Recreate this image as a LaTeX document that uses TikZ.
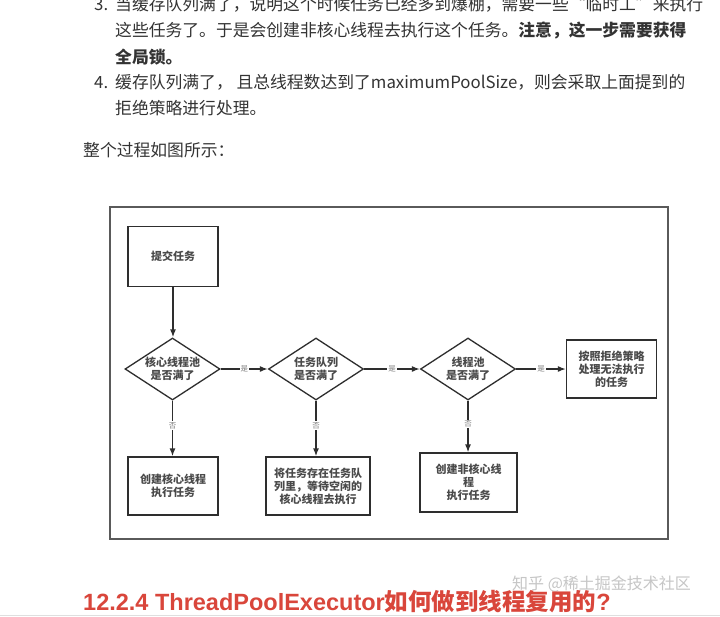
\documentclass[tikz,border=0pt]{standalone}
\usepackage{fontspec}
\setmainfont{Noto Sans CJK SC}
\newfontfamily\hfont{Liberation Sans}
\usetikzlibrary{shapes.geometric,arrows.meta}
\definecolor{txt}{HTML}{333333}
\definecolor{dtxt}{HTML}{4A4A4A}
\definecolor{lin}{HTML}{2E2E2E}
\definecolor{fr}{HTML}{5A5A5A}
\definecolor{hred}{HTML}{D9463B}
\begin{document}
\begin{tikzpicture}[x=1pt,y=-1pt,
  body/.style={anchor=base west, inner sep=0, text=txt, font=\fontsize{16.8}{20}\selectfont},
  box/.style={draw=lin, line width=1.3pt, rectangle, inner sep=0, align=center, text=dtxt, font=\bfseries\fontsize{11}{13}\selectfont},
  dia/.style={draw=lin, line width=1.3pt, diamond, inner sep=0, aspect=1.5, align=center, text=dtxt, font=\bfseries\fontsize{11}{13}\selectfont, minimum width=95pt, minimum height=62pt},
  arr/.style={draw=lin, line width=1.3pt, -{Latex[length=8pt,width=6pt]}},
  lab/.style={fill=white, inner sep=1pt, text=gray, font=\fontsize{7.5}{8}\selectfont}
]
\useasboundingbox (0,0) rectangle (720,616);
\clip (0,0) rectangle (720,616);
\fill[white] (0,0) rectangle (720,616);

% body text
\node[body] (n3) at (94,10.4) {3.};
\node[body] (l1) at (115,10.4) {当缓存队列满了，说明这个时候任务已经多到爆棚，需要一些“临时工”来执行};
\node[body] (l2) at (115,36.4) {这些任务了。于是会创建非核心线程去执行这个任务。\textbf{注意，这一步需要获得}};
\node[body] (l3) at (115,63.4) {\textbf{全局锁。}};
\node[body] (n4) at (94,88.4) {4.};
\node[body] (l4) at (115,88.4) {缓存队列满了，\ 且总线程数达到了maximumPoolSize，则会采取上面提到的};
\node[body] (l5) at (115,114.4) {拒绝策略进行处理。};
\node[body] (l6) at (83,156.4) {整个过程如图所示：};

% diagram frame
\node[draw=fr, line width=1.2pt, inner sep=0, minimum width=558pt, minimum height=332pt] (frame) at (389,373) {};

% nodes
\node[box, minimum width=90pt, minimum height=60pt] (submit) at (173,256.5) {提交任务};
\node[dia] (d1) at (172.5,369) {核心线程池\\是否满了};
\node[dia] (d2) at (316,369) {任务队列\\是否满了};
\node[dia] (d3) at (468,369) {线程池\\是否满了};
\node[box, minimum width=90pt, minimum height=58pt] (r) at (611.5,369) {按照拒绝策略\\处理无法执行\\的任务};
\node[box, minimum width=90pt, minimum height=58pt] (b1) at (173,486) {创建核心线程\\执行任务};
\node[box, minimum width=104pt, minimum height=58pt] (b2) at (318,486) {将任务存在任务队\\列里，等待空闲的\\核心线程去执行};
\node[box, minimum width=97pt, minimum height=59pt] (b3) at (468.5,482.5) {创建非核心线\\程\\执行任务};

% connectors
\draw[arr] (submit.south) -- (submit.south |- d1.north);
\draw[arr] (d1.east) -- node[lab] {是} (d2.west);
\draw[arr] (d2.east) -- node[lab] {是} (d3.west);
\draw[arr] (d3.east) -- node[lab] {是} (r.west);
\draw[arr] (d1.south) -- node[lab, pos=0.45] {否} (d1.south |- b1.north);
\draw[arr] (d2.south) -- node[lab, pos=0.45] {否} (d2.south |- b2.north);
\draw[arr] (d3.south) -- node[lab, pos=0.45] {否} (d3.south |- b3.north);

% footer
\node[anchor=base west, inner sep=0, text=gray!45, font=\fontsize{16}{18}\selectfont] (wm) at (512,589) {知乎 @稀土掘金技术社区};
\node[anchor=base west, inner sep=0, text=hred, font=\bfseries\fontsize{23.5}{27}\selectfont] (h) at (83,610) {{\hfont 12.2.4 ThreadPoolExecutor}如何做到线程复用的{\hfont ?}};
\draw[gray!25, line width=0.8pt] (0,615) -- (720,615);
\end{tikzpicture}
\end{document}
